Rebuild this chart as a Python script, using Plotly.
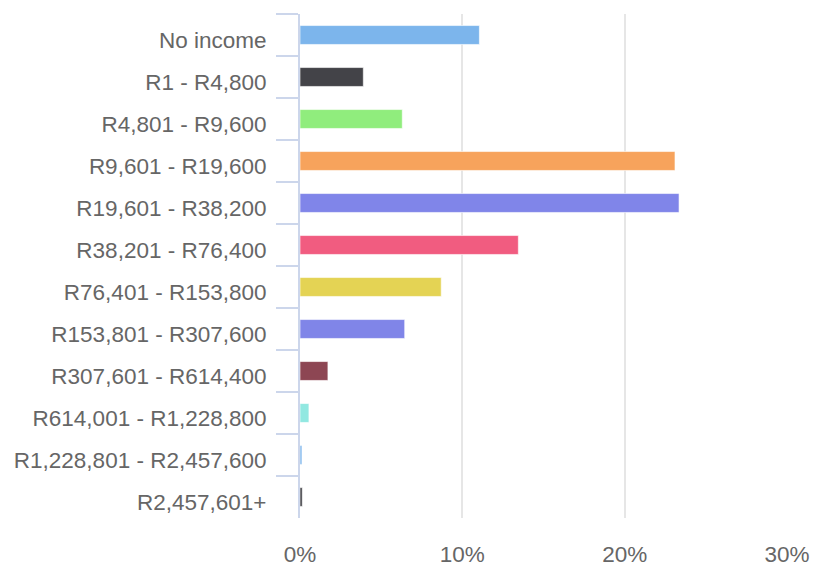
import plotly.graph_objects as go

# Annual household income bands and share of households (%)
income_bands = [
    "No income",
    "R1 - R4,800",
    "R4,801 - R9,600",
    "R9,601 - R19,600",
    "R19,601 - R38,200",
    "R38,201 - R76,400",
    "R76,401 - R153,800",
    "R153,801 - R307,600",
    "R307,601 - R614,400",
    "R614,001 - R1,228,800",
    "R1,228,801 - R2,457,600",
    "R2,457,601+",
]
share_pct = [11.05, 3.9, 6.3, 23.1, 23.35, 13.45, 8.7, 6.45, 1.72, 0.55, 0.12, 0.14]

bar_colors = [
    "#7cb5ec", "#434348", "#90ed7d", "#f7a35c", "#8085e9", "#f15c80",
    "#e4d354", "#8085e8", "#8d4653", "#91e8e1", "#7cb5ec", "#434348",
]

x_tick_vals = [0, 10, 20, 30]
x_tick_text = ["0%", "10%", "20%", "30%"]

font_family = "Liberation Sans, Arial, sans-serif"
label_color = "#666666"

fig = go.Figure(
    go.Bar(
        x=share_pct,
        y=income_bands,
        orientation="h",
        marker=dict(color=bar_colors, line=dict(color="#ffffff", width=0.6)),
        hovertemplate="%{y}: %{x:.1f}%<extra></extra>",
    )
)

fig.update_layout(
    width=816,
    height=565,
    margin=dict(l=300, r=29, t=14, b=47),
    paper_bgcolor="#ffffff",
    plot_bgcolor="#ffffff",
    bargap=0.55,
    showlegend=False,
    font=dict(family=font_family, size=22.5, color=label_color),
)

fig.update_xaxes(
    range=[0, 30],
    tickvals=x_tick_vals,
    ticktext=x_tick_text,
    showgrid=True,
    gridcolor="#e6e6e6",
    gridwidth=2,
    zeroline=False,
    showline=False,
    ticks="",
    ticklabelstandoff=20,
    tickfont=dict(family=font_family, size=22.5, color=label_color),
    automargin=False,
    fixedrange=True,
)

fig.update_yaxes(
    autorange="reversed",
    showgrid=False,
    zeroline=False,
    showline=True,
    linecolor="#ccd6eb",
    linewidth=2,
    ticks="outside",
    tickson="boundaries",
    ticklen=22,
    tickwidth=2,
    tickcolor="#ccd6eb",
    ticklabelstandoff=27,
    ticklabelshift=-5,
    tickfont=dict(family=font_family, size=22.5, color=label_color),
    automargin=False,
    fixedrange=True,
)

fig.write_html("out.html")
